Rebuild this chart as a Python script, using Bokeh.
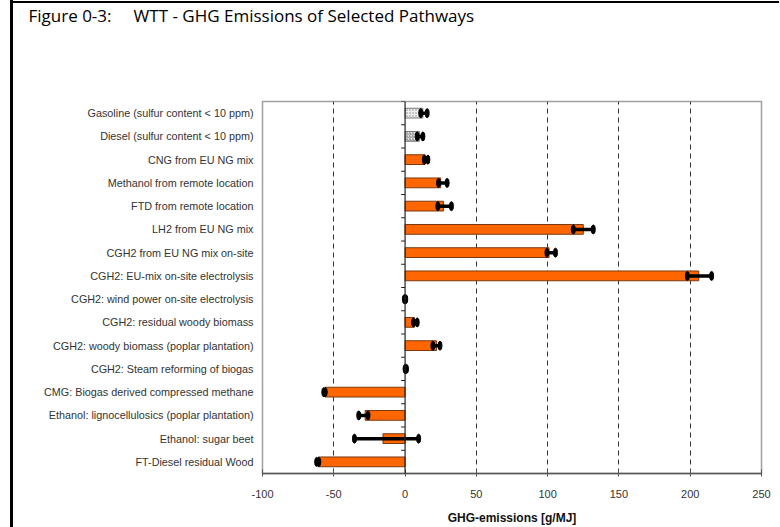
from bokeh.plotting import figure
from bokeh.models import Range1d, FixedTicker, Span, Title
from bokeh.embed import file_html
from bokeh.resources import INLINE

categories = [
    "Gasoline (sulfur content < 10 ppm)",
    "Diesel (sulfur content < 10 ppm)",
    "CNG from EU NG mix",
    "Methanol from remote location",
    "FTD from remote location",
    "LH2 from EU NG mix",
    "CGH2 from EU NG mix on-site",
    "CGH2: EU-mix on-site electrolysis",
    "CGH2: wind power on-site electrolysis",
    "CGH2: residual woody biomass",
    "CGH2: woody biomass (poplar plantation)",
    "CGH2: Steam reforming of biogas",
    "CMG: Biogas derived compressed methane",
    "Ethanol: lignocellulosics (poplar plantation)",
    "Ethanol: sugar beet",
    "FT-Diesel residual Wood",
]
values = [12.5, 10, 14, 25, 27, 125, 101, 206, 0, 6.5, 22, 0.5, -56, -28, -15.5, -61]
err_low = [11, 8.5, 13.5, 23.5, 23, 118, 99.5, 198, -0.5, 6, 19.5, 0, -57, -32.5, -35.5, -62]
err_high = [15.5, 12.5, 16, 29.5, 32.5, 132, 105.5, 215, 0.5, 8.5, 24.5, 1, -56, -26, 9.5, -60.5]
hatch_styles = ["dot", "right_diagonal_line"] + [None] * 14
x_ticks = [-100, -50, 0, 50, 100, 150, 200, 250]
x_tick_labels = ["-100", "-50", "0", "50", "100", "150", "200", "250"]
title_text = "Figure 0-3:\u00a0\u00a0\u00a0\u00a0 WTT - GHG Emissions of Selected Pathways"

n = len(categories)
ypos = [n - i - 0.5 for i in range(n)]

W, H = 779, 527
FL, FR, FB = 262, 761, 474
p = figure(width=W, height=H, output_backend="svg", toolbar_location=None,
           x_range=Range1d(-100, 250), y_range=Range1d(0, n),
           min_border_left=FL, min_border_right=W - FR, min_border_top=0, min_border_bottom=H - FB,
           title=title_text)
p.background_fill_color = "white"
p.border_fill_color = None
p.outline_line_color = "#a0a0a0"
p.outline_line_width = 1.5
p.styles = {
    "background-color": "white",
    "background-image": "linear-gradient(#000, #000), linear-gradient(#000, #000)",
    "background-size": "3px 100%, 100% 2px",
    "background-position": "10px 0px, 10px 1px",
    "background-repeat": "no-repeat",
}

# spacer between the title and the plot frame
p.add_layout(Title(text=" ", text_font_size="1px", standoff=71), "above")

# title (outermost)
p.title.align = "left"
p.title.offset = 28 - FL
p.title.standoff = 2
p.title.text_font = "Open Sans"
p.title.text_font_size = "17px"
p.title.text_font_style = "normal"
p.title.text_color = "black"

# x axis
p.xaxis.ticker = FixedTicker(ticks=x_ticks)
p.xaxis.major_label_overrides = dict(zip(x_ticks, x_tick_labels))
p.xaxis.major_label_text_font = "Liberation Sans"
p.xaxis.major_label_text_font_size = "11px"
p.xaxis.major_label_text_color = "#333333"
p.xaxis.axis_label = "GHG-emissions [g/MJ]"
p.xaxis.axis_label_text_font = "Liberation Sans"
p.xaxis.axis_label_text_font_size = "12px"
p.xaxis.axis_label_text_font_style = "bold"
p.xaxis.axis_label_text_color = "#111111"
p.xaxis.axis_label_standoff = 10
p.xaxis.major_label_standoff = 13
p.xaxis.axis_line_color = "#555555"
p.xaxis.axis_line_width = 1.5
p.xaxis.major_tick_line_color = "#555555"
p.xaxis.major_tick_in = 4
p.xaxis.major_tick_out = 3
p.xaxis.minor_tick_line_color = None

# y axis (category labels)
p.yaxis.ticker = FixedTicker(ticks=ypos)
p.yaxis.major_label_overrides = {y: c for y, c in zip(ypos, categories)}
p.yaxis.major_label_text_font = "Liberation Sans"
p.yaxis.major_label_text_font_size = "10.8px"
p.yaxis.major_label_text_color = "#333333"
p.yaxis.major_tick_line_color = None
p.yaxis.major_tick_in = 0
p.yaxis.major_tick_out = 0
p.yaxis.minor_tick_line_color = None
p.yaxis.minor_tick_out = 0
p.yaxis.axis_line_color = None
p.yaxis.major_label_standoff = 9

# grid
p.ygrid.grid_line_color = None
p.xgrid.ticker = FixedTicker(ticks=[t for t in x_ticks if t not in (-100, 0, 250)])
p.xgrid.grid_line_color = "#333333"
p.xgrid.grid_line_dash = "5 4"
p.xgrid.grid_line_width = 1

# bars
solid = [i for i in range(n) if hatch_styles[i] is None]
p.hbar(y=[ypos[i] for i in solid], left=0, right=[values[i] for i in solid], height=0.42,
       fill_color="#FF6600", line_color="#7a3a10", line_width=1)
for i in range(n):
    if hatch_styles[i] is not None:
        p.hbar(y=[ypos[i]], left=0, right=[values[i]], height=0.42, fill_color="#eeeeee",
               hatch_pattern=hatch_styles[i], hatch_color="#8a8a8a", hatch_scale=3,
               line_color="#777777", line_width=1)

# category axis at zero with ticks at boundaries
p.add_layout(Span(location=0, dimension="height", line_color="#222222", line_width=1.2))
bounds = list(range(n + 1))
p.segment(x0=[-2.8] * len(bounds), x1=[0] * len(bounds), y0=bounds, y1=bounds,
          line_color="#222222", line_width=1)

# error bars
p.segment(x0=err_low, x1=err_high, y0=ypos, y1=ypos, line_color="black", line_width=3.5)
p.ellipse(x=err_low, y=ypos, width=4, height=9, width_units="screen", height_units="screen",
          fill_color="black", line_color="black")
p.ellipse(x=err_high, y=ypos, width=4, height=9, width_units="screen", height_units="screen",
          fill_color="black", line_color="black")

open("out.html", "w").write(file_html(p, INLINE))
